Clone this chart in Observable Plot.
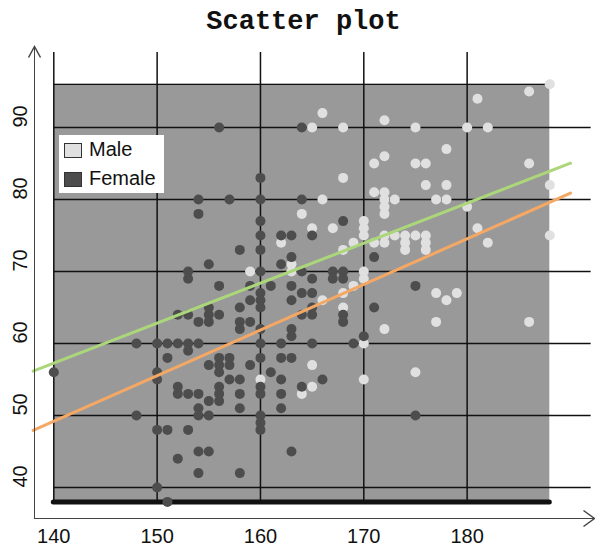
<!DOCTYPE html>
<html><head><meta charset="utf-8">
<script src="https://cdn.jsdelivr.net/npm/d3@7"></script>
<script src="https://cdn.jsdelivr.net/npm/@observablehq/plot@0.6"></script>
<style>
body{margin:0;background:#fff;}
#wrap{position:relative;width:595px;height:545px;}
#title{position:absolute;left:6px;top:7px;width:595px;text-align:center;font:bold 27px "Liberation Mono","Courier New",monospace;color:#111;}
#legend{position:absolute;left:59px;top:135px;width:105px;height:58px;background:#fff;font:20px "Liberation Sans",Arial,sans-serif;color:#111;}
.row{position:absolute;left:5px;height:20px;line-height:20px;}
.sw{position:absolute;left:0;top:3px;width:16px;height:13px;border:1px solid #333;}
.lab{position:absolute;left:25px;top:-1px;white-space:nowrap;}
</style></head>
<body>
<div id="wrap">
  <div id="chart"></div>
  <div id="title">Scatter plot</div>
  <div id="legend"></div>
</div>
<script>
// ---- data ----
const femaleHeight = [156,164,160,154,157,160,164,154,160,168,160,162,163,165,158,160,163,171,155,162,153,160,164,167,168,153,165,167,168,156,159,161,163,175,160,164,165,159,160,163,155,158,160,165,171,152,153,155,156,164,165,168,154,155,158,159,168,158,160,163,163,170,148,150,151,152,153,154,160,162,165,169,153,151,156,157,160,162,163,155,156,157,159,140,150,156,161,150,157,158,162,166,152,156,160,164,152,153,154,156,158,160,162,155,156,154,158,162,148,154,155,160,175,160,150,151,153,160,154,155,163,152,154,158,150,151];
const femaleWeight = [90,90,83,80,80,80,80,78,77,77,75,75,75,75,73,73,72,72,71,71,70,70,70,70,70,69,69,69,69,68,68,68,68,68,67,67,67,66,66,66,65,65,65,65,65,64,64,64,64,64,64,64,63,63,63,63,63,62,62,62,61,61,60,60,60,60,60,60,60,60,60,60,59,58,58,58,58,58,58,57,57,57,57,56,56,56,56,55,55,55,55,55,54,54,54,54,53,53,53,53,53,53,53,52,52,51,51,51,50,50,50,50,50,49,48,48,48,48,45,45,45,44,42,42,40,38];
const maleHeight = [188,186,181,166,172,165,168,175,180,182,178,172,171,175,176,186,168,176,178,188,171,172,166,172,173,177,178,172,180,164,172,170,165,167,170,181,170,172,173,174,175,176,188,162,169,171,172,174,176,182,168,174,176,163,159,163,170,170,169,168,177,179,166,178,168,177,186,172,170,165,160,170,175,165,164];
const maleWeight = [96,95,94,92,91,90,90,90,90,90,87,86,85,85,85,85,83,82,82,82,81,81,80,80,80,80,80,79,79,78,78,77,76,76,76,76,75,75,75,75,75,75,75,74,74,74,74,74,74,74,73,73,73,71,70,70,70,69,68,67,67,67,66,66,65,63,63,62,60,57,55,55,56,54,53];
const fitX = [138, 190];
const maleFit = [56.15, 85.04];
const femaleFit = [47.92, 80.88];
const xTicks = [140,150,160,170,180];
const yTicks = [40,50,60,70,80,90];
const panelX = [140, 188];
const panelY = [38, 96];
const gridTop = 100.4;
const gridRight = 192;
const groups = ["Male","Female"];
const colors = ["#e0e0e0","#4d4d4d"];
const lineColors = ["#abd77a","#f5a864"];

const males = maleHeight.map((h,i)=>({h, w: maleWeight[i]}));
const females = femaleHeight.map((h,i)=>({h, w: femaleWeight[i]}));
const maleLine = fitX.map((x,i)=>({x, y: maleFit[i]}));
const femaleLine = fitX.map((x,i)=>({x, y: femaleFit[i]}));

const upArrow = {draw(ctx){ctx.moveTo(-6,11);ctx.lineTo(0,0);ctx.lineTo(6,11);}};
const rightArrow = {draw(ctx){ctx.moveTo(-11,-8);ctx.lineTo(0,0);ctx.lineTo(-11,8);}};
const font = '"Liberation Sans", Arial, sans-serif';

const chart = Plot.plot({
  width: 595, height: 545,
  marginTop: 46, marginLeft: 34, marginRight: 1, marginBottom: 27,
  x: {domain: [140,188], range: [53.3, 549.3], axis: null},
  y: {domain: [40,90], range: [487, 127], axis: null},
  style: {fontFamily: font, background: "#fff"},
  marks: [
    Plot.rect([0], {x1: panelX[0], x2: panelX[1], y1: panelY[0], y2: panelY[1], fill: "#999999"}),
    Plot.ruleX(xTicks, {x: d=>d, y1: panelY[0], y2: gridTop, stroke: "#111", strokeWidth: 1.5}),
    Plot.ruleY(yTicks, {y: d=>d, x1: panelX[0], x2: gridRight, stroke: "#111", strokeWidth: 1.5}),
    Plot.ruleY([panelY[1]], {y: d=>d, x1: panelX[0], x2: panelX[1], stroke: "#111", strokeWidth: 1.2}),
    Plot.ruleY([panelY[0]], {y: d=>d, x1: panelX[0], x2: panelX[1], stroke: "#111", strokeWidth: 5, strokeLinecap: "round"}),
    Plot.dot(males, {x: "h", y: "w", r: 5, fill: colors[0]}),
    Plot.dot(females, {x: "h", y: "w", r: 5, fill: colors[1]}),
    Plot.line(maleLine, {x: "x", y: "y", stroke: lineColors[0], strokeWidth: 3}),
    Plot.line(femaleLine, {x: "x", y: "y", stroke: lineColors[1], strokeWidth: 3}),
    Plot.frame({anchor: "left", stroke: "#444"}),
    Plot.frame({anchor: "bottom", stroke: "#444"}),
    Plot.dot([0], {frameAnchor: "top-left", symbol: upArrow, fill: "none", stroke: "#444", r: 5}),
    Plot.dot([0], {frameAnchor: "bottom-right", symbol: rightArrow, fill: "none", stroke: "#444", r: 5}),
    Plot.text(xTicks, {x: d=>d, frameAnchor: "bottom", dy: 24, text: d=>String(d), fontSize: 20, fill: "#111"}),
    Plot.text(yTicks, {y: d=>d, frameAnchor: "left", dx: -14, rotate: -90, text: d=>String(d), fontSize: 20, fill: "#111"})
  ]
});
document.getElementById("chart").appendChild(chart);

const leg = document.getElementById("legend");
groups.forEach((g,i)=>{
  const row = document.createElement("div");
  row.className = "row";
  row.style.top = (5 + i*29) + "px";
  row.innerHTML = `<div class="sw" style="background:${colors[i]}"></div><div class="lab">${g}</div>`;
  leg.appendChild(row);
});
</script>
</body></html>
